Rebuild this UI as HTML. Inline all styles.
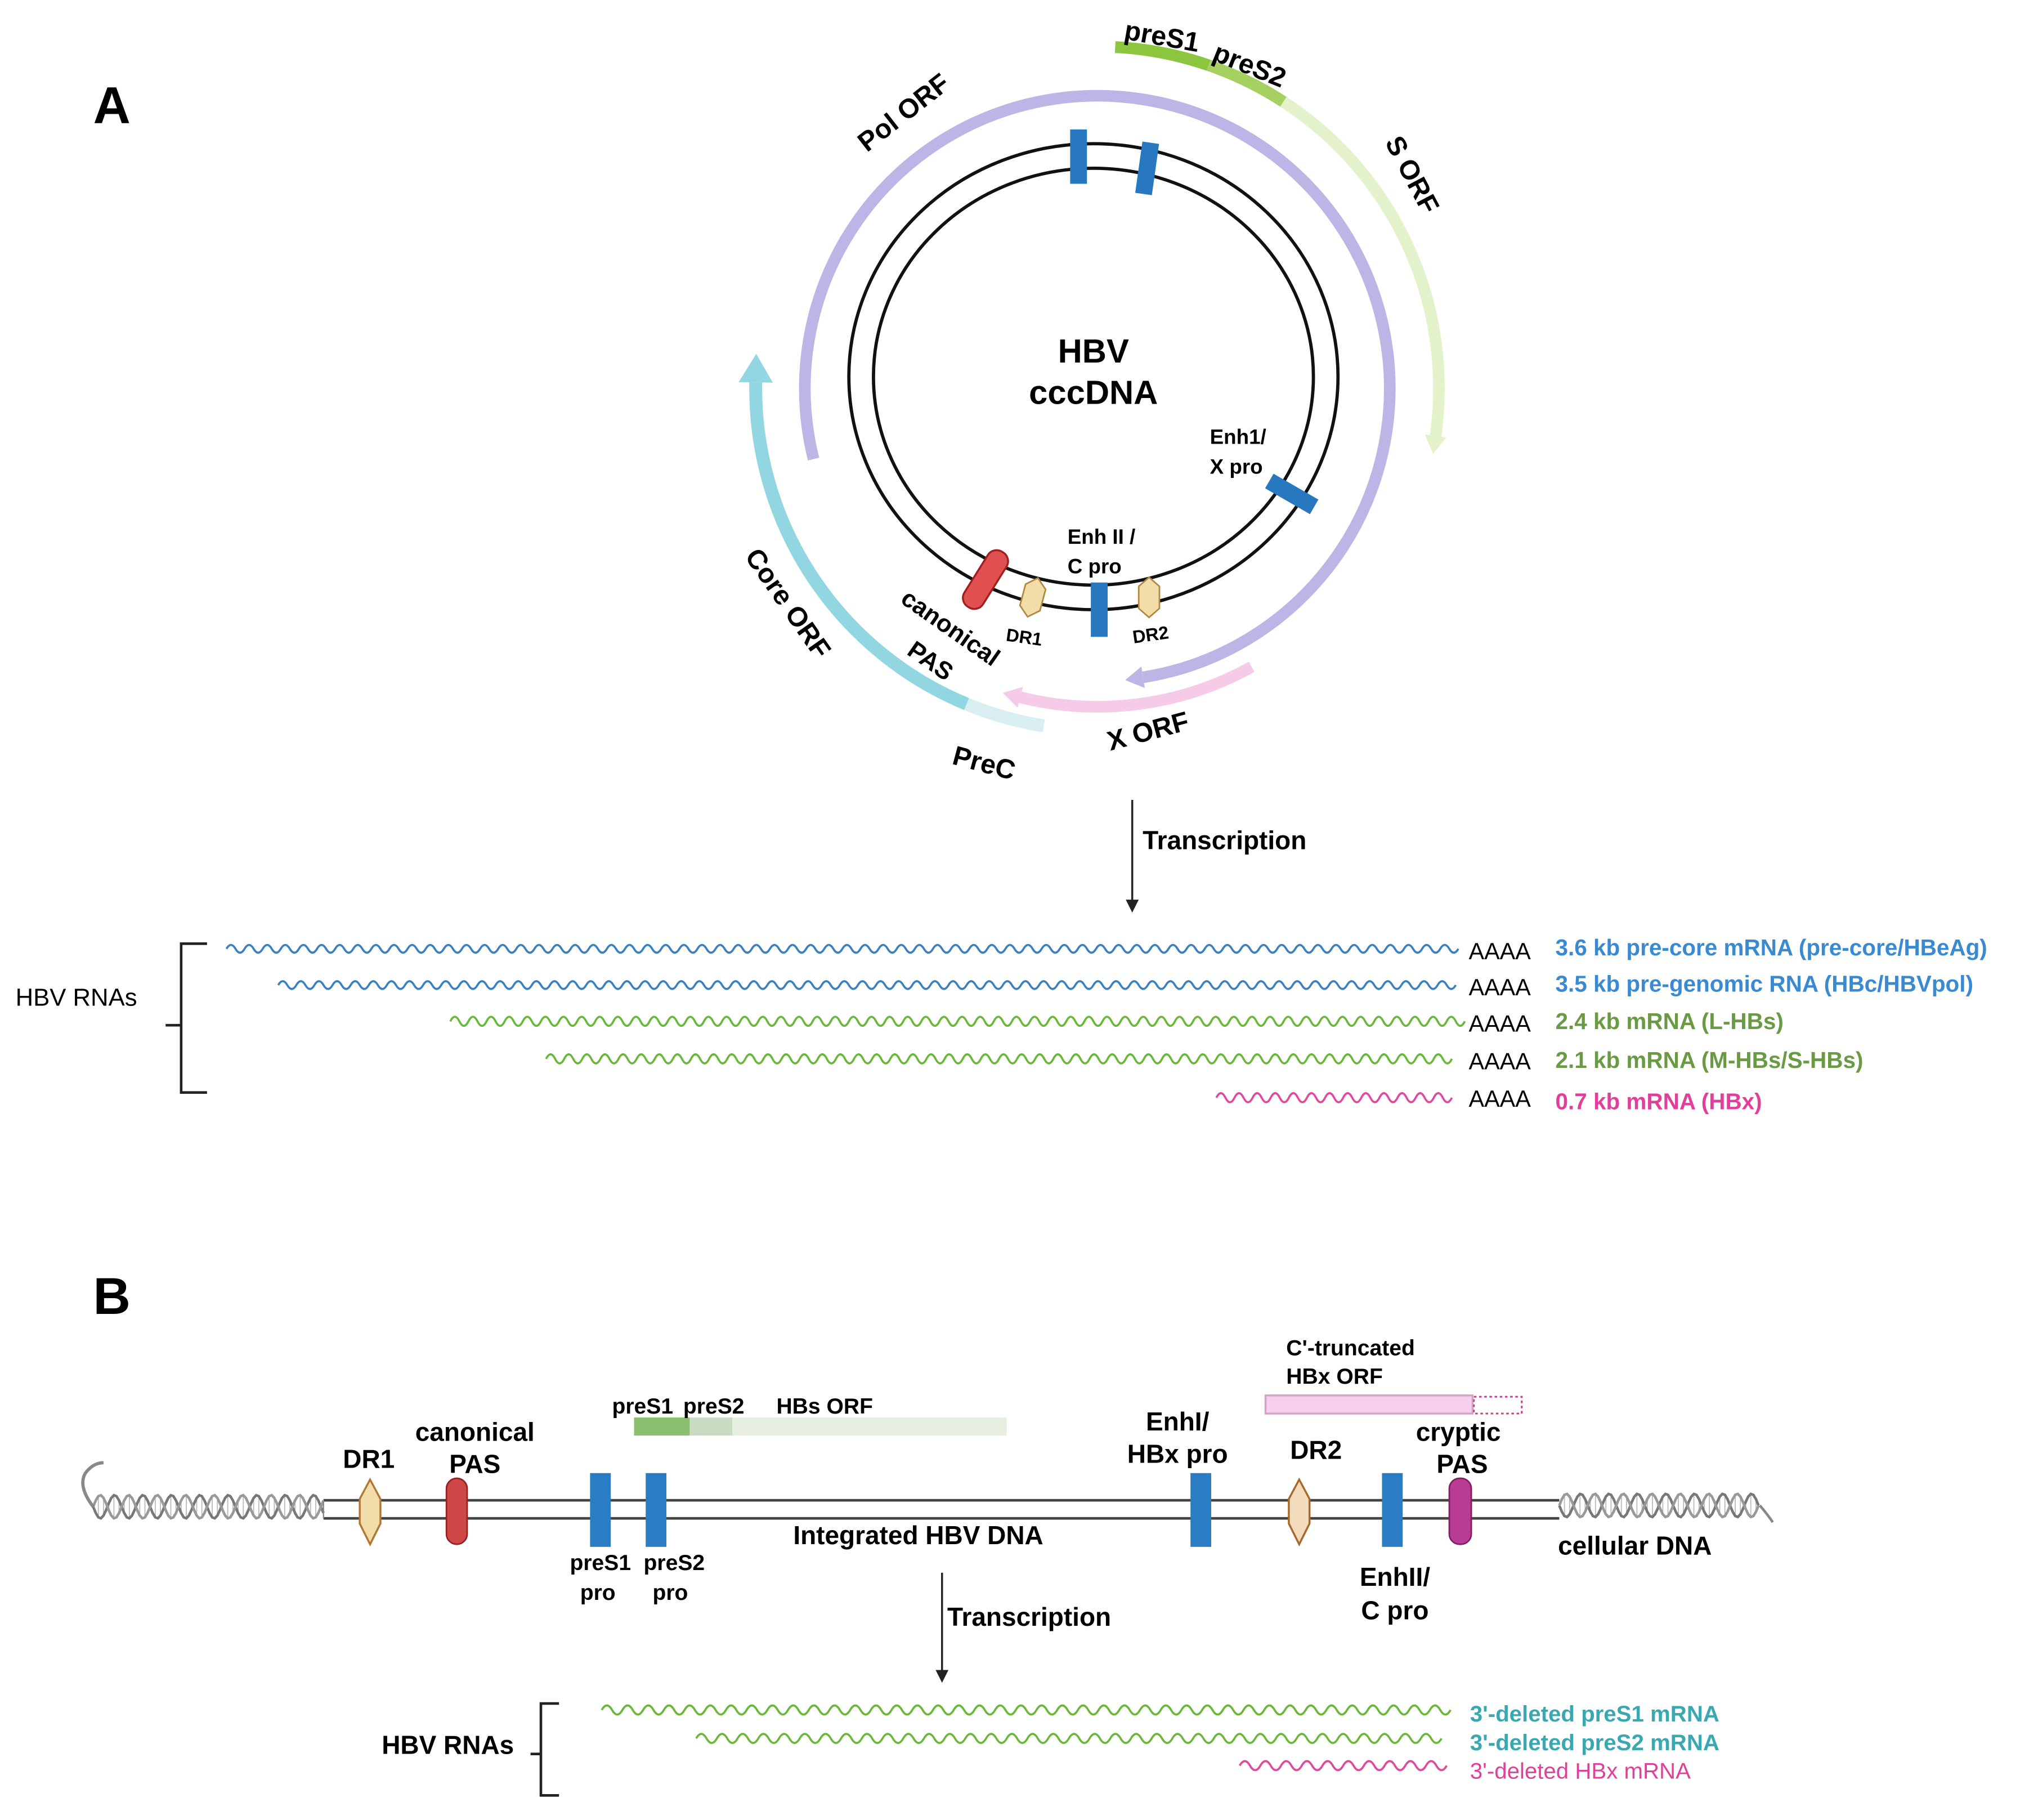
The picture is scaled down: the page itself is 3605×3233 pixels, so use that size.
<!DOCTYPE html>
<html><head><meta charset="utf-8">
<style>
html,body{margin:0;padding:0;background:#fff;}
svg{display:block;}
text{font-family:"Liberation Sans",sans-serif;font-weight:bold;}
</style></head>
<body>
<svg id="s" width="3605" height="3233" viewBox="0 0 1568 1406" preserveAspectRatio="none" xmlns="http://www.w3.org/2000/svg">
<defs>
<marker id="ah" markerWidth="10" markerHeight="10" refX="5" refY="5" orient="auto" markerUnits="userSpaceOnUse"><path d="M0,0 L10,5 L0,10 z" fill="#222"/></marker>
</defs>
<g id="arcs"></g>
<ellipse cx="845" cy="291" rx="189" ry="180" fill="none" stroke="#111" stroke-width="2.5"/>
<ellipse cx="845" cy="291" rx="170" ry="161" fill="none" stroke="#111" stroke-width="2.5"/>
<rect x="827" y="100" width="13" height="42" fill="#2878c0"/>
<rect x="880" y="110" width="13" height="40" fill="#2878c0" transform="rotate(8 886 130)"/>
<rect x="992" y="362" width="13" height="40" fill="#2878c0" transform="rotate(-60 998 382)"/>
<rect x="843" y="450" width="13" height="42" fill="#2878c0"/>
<rect x="753" y="423" width="17" height="50" rx="8" fill="#e05050" stroke="#a02020" stroke-width="1.5" transform="rotate(32 762 448)"/>
<polygon points="798,446 806,453 806,470 798,477 790,470 790,453" fill="#f2dcaa" stroke="#b08840" stroke-width="1.2" transform="rotate(15 798 462)"/>
<polygon points="888,446 896,453 896,470 888,477 880,470 880,453" fill="#f2dcaa" stroke="#b08840" stroke-width="1.2"/>
<text x="845" y="280" font-size="26" text-anchor="middle">HBV</text>
<text x="845" y="312" font-size="26" text-anchor="middle">cccDNA</text>
<text x="935" y="343" font-size="16">Enh1/</text>
<text x="935" y="366" font-size="16">X pro</text>
<text x="825" y="420" font-size="16">Enh II /</text>
<text x="825" y="443" font-size="16">C pro</text>
<text x="777" y="495" font-size="14" transform="rotate(8 777 495)">DR1</text>
<text x="876" y="497" font-size="14" transform="rotate(-8 876 497)">DR2</text>
<text x="695" y="465" font-size="19" transform="rotate(35 695 465)">canonical</text>
<text x="700" y="505" font-size="19" transform="rotate(35 700 505)">PAS</text>
<text x="575" y="430" font-size="21" transform="rotate(55 575 430)">Core ORF</text>
<text x="735" y="590" font-size="21" transform="rotate(15 735 590)">PreC</text>
<text x="858" y="580" font-size="21" transform="rotate(-15 858 580)">X ORF</text>
<text x="670" y="118" font-size="21" transform="rotate(-38 670 118)">Pol ORF</text>
<text x="868" y="30" font-size="21" transform="rotate(10 868 30)">preS1</text>
<text x="936" y="46" font-size="21" transform="rotate(22 936 46)">preS2</text>
<text x="1070" y="110" font-size="21" transform="rotate(62 1070 110)">S ORF</text>
<text x="72" y="95" font-size="40">A</text>
<text x="72" y="1015" font-size="40">B</text>

<line x1="875" y1="618" x2="875" y2="700" stroke="#222" stroke-width="1.5" marker-end="url(#ah)"/>
<text x="883" y="656" font-size="20">Transcription</text>

<g id="waves"></g>
<g font-size="18">
<text x="1135" y="741" style="font-weight:normal">AAAA</text>
<text x="1135" y="769" style="font-weight:normal">AAAA</text>
<text x="1135" y="797" style="font-weight:normal">AAAA</text>
<text x="1135" y="826" style="font-weight:normal">AAAA</text>
<text x="1135" y="855" style="font-weight:normal">AAAA</text>
</g>
<text x="1202" y="738" font-size="17.6" fill="#3a8ad2">3.6 kb pre-core mRNA (pre-core/HBeAg)</text>
<text x="1202" y="766" font-size="17.6" fill="#3a8ad2">3.5 kb pre-genomic RNA (HBc/HBVpol)</text>
<text x="1202" y="795" font-size="17.6" fill="#6a9a44">2.4 kb mRNA (L-HBs)</text>
<text x="1202" y="825" font-size="17.6" fill="#6a9a44">2.1 kb mRNA (M-HBs/S-HBs)</text>
<text x="1202" y="857" font-size="17.6" fill="#e0409a">0.7 kb mRNA (HBx)</text>
<path d="M160,729 H140 V844 H160 M140,792 H128" fill="none" stroke="#222" stroke-width="2"/>
<text x="12" y="777" font-size="19" style="font-weight:normal">HBV RNAs</text>

<g id="helix"></g>
<line x1="250" y1="1159" x2="1205" y2="1159" stroke="#444" stroke-width="2"/>
<line x1="250" y1="1173" x2="1205" y2="1173" stroke="#444" stroke-width="2"/>
<line x1="250" y1="1159" x2="250" y2="1173" stroke="#888" stroke-width="1"/>
<polygon points="286,1143 294,1158 294,1177 286,1193 278,1177 278,1158" fill="#f2dcaa" stroke="#b07830" stroke-width="1.5"/>
<rect x="345" y="1142" width="16" height="51" rx="8" fill="#cf4848" stroke="#992020" stroke-width="1.2"/>
<rect x="456" y="1138" width="16" height="57" fill="#2a7cc4"/>
<rect x="499" y="1138" width="16" height="57" fill="#2a7cc4"/>
<rect x="920" y="1138" width="16" height="57" fill="#2a7cc4"/>
<polygon points="1004,1143 1012,1158 1012,1177 1004,1193 996,1177 996,1158" fill="#f2dcbc" stroke="#a8682a" stroke-width="1.5"/>
<rect x="1068" y="1138" width="16" height="57" fill="#2a7cc4"/>
<rect x="1120" y="1142" width="17" height="51" rx="8" fill="#b83c94" stroke="#802060" stroke-width="1.2"/>
<rect x="490" y="1095" width="43" height="14" fill="#8cc070"/>
<rect x="533" y="1095" width="33" height="14" fill="#c8dcc4"/>
<rect x="566" y="1095" width="212" height="14" fill="#e6efe0"/>
<rect x="978" y="1078" width="160" height="14" fill="#f5d0ec" stroke="#d8a0c8" stroke-width="1.5"/>
<rect x="1139" y="1079" width="37" height="13" fill="none" stroke="#c04090" stroke-width="1.3" stroke-dasharray="2,2"/>
<text x="285" y="1134" font-size="20" text-anchor="middle">DR1</text>
<text x="367" y="1113" font-size="20" text-anchor="middle">canonical</text>
<text x="367" y="1138" font-size="20" text-anchor="middle">PAS</text>
<text x="473" y="1092" font-size="17">preS1</text>
<text x="528" y="1092" font-size="17">preS2</text>
<text x="600" y="1092" font-size="17">HBs ORF</text>
<text x="464" y="1213" font-size="17" text-anchor="middle">preS1</text>
<text x="462" y="1236" font-size="17" text-anchor="middle">pro</text>
<text x="521" y="1213" font-size="17" text-anchor="middle">preS2</text>
<text x="518" y="1236" font-size="17" text-anchor="middle">pro</text>
<text x="613" y="1193" font-size="20">Integrated HBV DNA</text>
<text x="910" y="1105" font-size="20" text-anchor="middle">EnhI/</text>
<text x="910" y="1130" font-size="20" text-anchor="middle">HBx pro</text>
<text x="1017" y="1127" font-size="20" text-anchor="middle">DR2</text>
<text x="994" y="1047" font-size="17">C'-truncated</text>
<text x="994" y="1069" font-size="17">HBx ORF</text>
<text x="1127" y="1113" font-size="20" text-anchor="middle">cryptic</text>
<text x="1130" y="1138" font-size="20" text-anchor="middle">PAS</text>
<text x="1078" y="1225" font-size="20" text-anchor="middle">EnhII/</text>
<text x="1078" y="1251" font-size="20" text-anchor="middle">C pro</text>
<text x="1204" y="1201" font-size="20">cellular DNA</text>
<line x1="728" y1="1215" x2="728" y2="1295" stroke="#222" stroke-width="1.5" marker-end="url(#ah)"/>
<text x="732" y="1256" font-size="20">Transcription</text>
<text x="1136" y="1330" font-size="17.5" fill="#3aa8b0">3'-deleted preS1 mRNA</text>
<text x="1136" y="1352" font-size="17.5" fill="#3aa8b0">3'-deleted preS2 mRNA</text>
<text x="1136" y="1374" font-size="17.5" fill="#e0409a" style="font-weight:normal">3'-deleted HBx mRNA</text>
<path d="M432,1316 H418 V1387 H432 M418,1355 H410" fill="none" stroke="#222" stroke-width="2"/>
<text x="295" y="1355" font-size="20">HBV RNAs</text>
</svg>
<script>
var NS="http://www.w3.org/2000/svg";
function el(p,t,a){var e=document.createElementNS(NS,t);for(var k in a)e.setAttribute(k,a[k]);p.appendChild(e);return e;}
var cx=848,cy=300;
function pt(r,a){a=a*Math.PI/180;return [cx+r*Math.cos(a),cy+r*Math.sin(a)];}
function arc(g,r,a1,a2,col,w){var p1=pt(r,a1),p2=pt(r,a2);var large=Math.abs(a2-a1)>180?1:0;var sw=a2>a1?1:0;
el(g,"path",{d:"M"+p1[0]+","+p1[1]+" A"+r+","+r+" 0 "+large+" "+sw+" "+p2[0]+","+p2[1],fill:"none",stroke:col,"stroke-width":w});}
function head(g,r,a,dir,col,s){var p=pt(r,a);var t=(a+90*dir)*Math.PI/180;var n=a*Math.PI/180;
var tip=[p[0]+s*Math.cos(t),p[1]+s*Math.sin(t)];
var b1=[p[0]+s*0.6*Math.cos(n),p[1]+s*0.6*Math.sin(n)],b2=[p[0]-s*0.6*Math.cos(n),p[1]-s*0.6*Math.sin(n)];
el(g,"polygon",{points:tip.join(",")+" "+b1.join(",")+" "+b2.join(","),fill:col});}
var g=document.getElementById("arcs");
arc(g,226,166,441,"#bbb6e6",9);head(g,226,441,1,"#bbb6e6",14);
arc(g,264,-57,8,"#e4f2cc",9);head(g,264,8,1,"#e4f2cc",14);
arc(g,264,-87,-71,"#8cc63f",9);arc(g,264,-71,-57,"#a6d060",9);
arc(g,246,61,104,"#f6cbe8",9);head(g,246,104,1,"#f6cbe8",14);
arc(g,264,99,112.5,"#d8eef0",10);arc(g,264,112.5,181,"#92d6e2",10);head(g,264,181,1,"#92d6e2",22);
function wave(g,x1,x2,y,col,wl,amp){var d="M"+x1+","+y;var n=Math.floor((x2-x1)/wl);for(var i=0;i<n;i++){var x=x1+i*wl;d+=" Q"+(x+wl/4)+","+(y-amp*2)+" "+(x+wl/2)+","+y+" Q"+(x+3*wl/4)+","+(y+amp*2)+" "+(x+wl)+","+y;}
el(g,"path",{d:d,fill:"none",stroke:col,"stroke-width":1.6});}
var w=document.getElementById("waves");
wave(w,175,1135,733,"#3a7fc0",14,3);wave(w,215,1128,761,"#3a7fc0",14,3);
wave(w,348,1135,789,"#6ab83a",14,3.5);wave(w,422,1135,818,"#6ab83a",14,3.5);
wave(w,940,1135,848,"#e04a9c",14,3.5);
wave(w,465,1128,1321,"#6ab83a",16,3.5);wave(w,538,1128,1343,"#6ab83a",16,3.5);wave(w,958,1128,1364,"#e04a9c",16,3.5);
var h=document.getElementById("helix");
function helix(x1,x2,y,per,amp){var d1="M"+x1+","+y;for(var x=x1;x<=x2;x+=2){var ph=(x-x1)/per*2*Math.PI;d1+=" L"+x+","+(y+amp*Math.sin(ph));}
var d2="M"+x1+","+y;for(var x=x1;x<=x2;x+=2){var ph=(x-x1)/per*2*Math.PI;d2+=" L"+x+","+(y-amp*Math.sin(ph));}
for(var x=x1;x<=x2;x+=4){var ph=(x-x1)/per*2*Math.PI;var a=amp*Math.sin(ph);el(h,"line",{x1:x,y1:y-a,x2:x,y2:y+a,stroke:"#bbb","stroke-width":0.8});}
el(h,"path",{d:d1,fill:"none",stroke:"#777","stroke-width":2});el(h,"path",{d:d2,fill:"none",stroke:"#999","stroke-width":2});}
helix(72,250,1164,22,9);helix(1205,1360,1163,22,9);
el(h,"path",{d:"M72,1164 Q60,1148 66,1138 Q72,1130 80,1130",fill:"none",stroke:"#888","stroke-width":2.5});
el(h,"path",{d:"M1360,1163 Q1366,1170 1370,1176",fill:"none",stroke:"#888","stroke-width":2});
</script>
</body></html>
